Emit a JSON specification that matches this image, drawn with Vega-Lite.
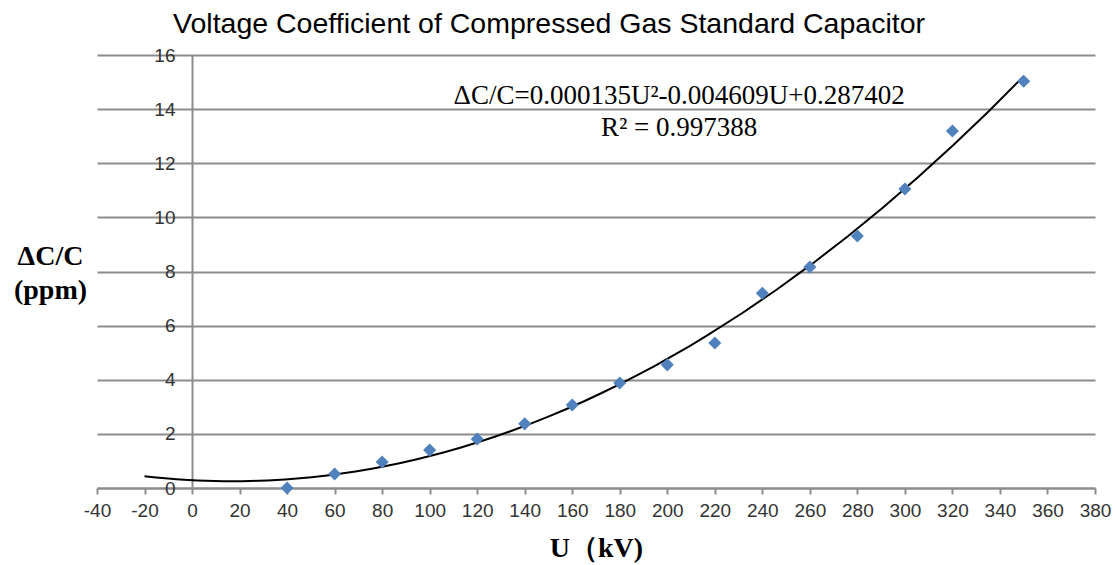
{
  "$schema": "https://vega.github.io/schema/vega-lite/v6.json",
  "width": 998,
  "height": 433,
  "autosize": {"type": "none"},
  "padding": {"left": 97, "top": 55, "right": 20, "bottom": 77},
  "background": "white",
  "title": {
    "text": "Voltage Coefficient of Compressed Gas Standard Capacitor",
    "font": "Liberation Sans",
    "fontSize": 28.5,
    "fontWeight": "normal",
    "color": "#000",
    "anchor": "middle",
    "dx": -47,
    "offset": 8
  },
  "config": {"view": {"stroke": null}},
  "data": {
    "values": [
      {"U": 40, "dC": 0.0},
      {"U": 60, "dC": 0.52},
      {"U": 80, "dC": 0.96},
      {"U": 100, "dC": 1.4},
      {"U": 120, "dC": 1.81},
      {"U": 140, "dC": 2.37},
      {"U": 160, "dC": 3.07},
      {"U": 180, "dC": 3.88},
      {"U": 200, "dC": 4.55},
      {"U": 220, "dC": 5.36},
      {"U": 240, "dC": 7.2},
      {"U": 260, "dC": 8.17},
      {"U": 280, "dC": 9.31},
      {"U": 300, "dC": 11.05},
      {"U": 320, "dC": 13.19},
      {"U": 350, "dC": 15.03}
    ]
  },
  "layer": [
    {
      "transform": [
        {"regression": "dC", "on": "U", "method": "poly", "order": 2, "extent": [-20, 350]}
      ],
      "mark": {"type": "line", "color": "black", "strokeWidth": 2},
      "encoding": {
        "x": {
          "field": "U",
          "type": "quantitative",
          "scale": {"domain": [-40, 380], "nice": false, "zero": false},
          "axis": {
            "values": [-40, -20, 0, 20, 40, 60, 80, 100, 120, 140, 160, 180, 200, 220, 240, 260, 280, 300, 320, 340, 360, 380],
            "labelExpr": "'' + datum.value",
            "grid": false,
            "domainColor": "#8c8c8c",
            "domainWidth": 2,
            "tickColor": "#8c8c8c",
            "tickWidth": 2,
            "tickSize": 6,
            "labelFont": "Liberation Sans",
            "labelFontSize": 19,
            "labelColor": "#333333",
            "labelPadding": 7,
            "labelFlush": false,
            "labelOverlap": false,
            "title": "U（kV)",
            "titleFont": "Liberation Serif",
            "titleFontSize": 28,
            "titleFontWeight": "bold",
            "titleColor": "#000000",
            "titleY": 60,
            "titleBaseline": "middle"
          }
        },
        "y": {
          "field": "dC",
          "type": "quantitative",
          "scale": {"domain": [0, 16], "nice": false},
          "axis": {
            "values": [0, 2, 4, 6, 8, 10, 12, 14, 16],
            "offset": -95,
            "grid": true,
            "gridColor": "#8c8c8c",
            "gridWidth": 2,
            "domainColor": "#8c8c8c",
            "domainWidth": 2,
            "ticks": false,
            "labelPadding": 17,
            "labelFont": "Liberation Sans",
            "labelFontSize": 19,
            "labelColor": "#333333",
            "labelFlush": false,
            "title": ["ΔC/C", "(ppm)"],
            "titleFont": "Liberation Serif",
            "titleFontSize": 28,
            "titleFontWeight": "bold",
            "titleColor": "#000000",
            "titleAngle": 0,
            "titleX": -142,
            "titleY": 201,
            "titleAlign": "center",
            "titleBaseline": "middle",
            "titleLineHeight": 34
          }
        }
      }
    },
    {
      "mark": {"type": "point", "shape": "diamond", "filled": true, "size": 170, "color": "#4F81BD", "opacity": 1},
      "encoding": {
        "x": {"field": "U", "type": "quantitative"},
        "y": {"field": "dC", "type": "quantitative"}
      }
    },
    {
      "data": {"values": [{"label": "ΔC/C=0.000135U²-0.004609U+0.287402"}]},
      "mark": {"type": "text", "font": "Liberation Serif", "fontSize": 27, "color": "black", "align": "center", "baseline": "middle"},
      "encoding": {
        "x": {"datum": 205, "type": "quantitative"},
        "y": {"datum": 14.49, "type": "quantitative"},
        "text": {"field": "label", "type": "nominal"}
      }
    },
    {
      "data": {"values": [{"label": "R² = 0.997388"}]},
      "mark": {"type": "text", "font": "Liberation Serif", "fontSize": 27, "color": "black", "align": "center", "baseline": "middle"},
      "encoding": {
        "x": {"datum": 205, "type": "quantitative"},
        "y": {"datum": 13.3, "type": "quantitative"},
        "text": {"field": "label", "type": "nominal"}
      }
    }
  ]
}
